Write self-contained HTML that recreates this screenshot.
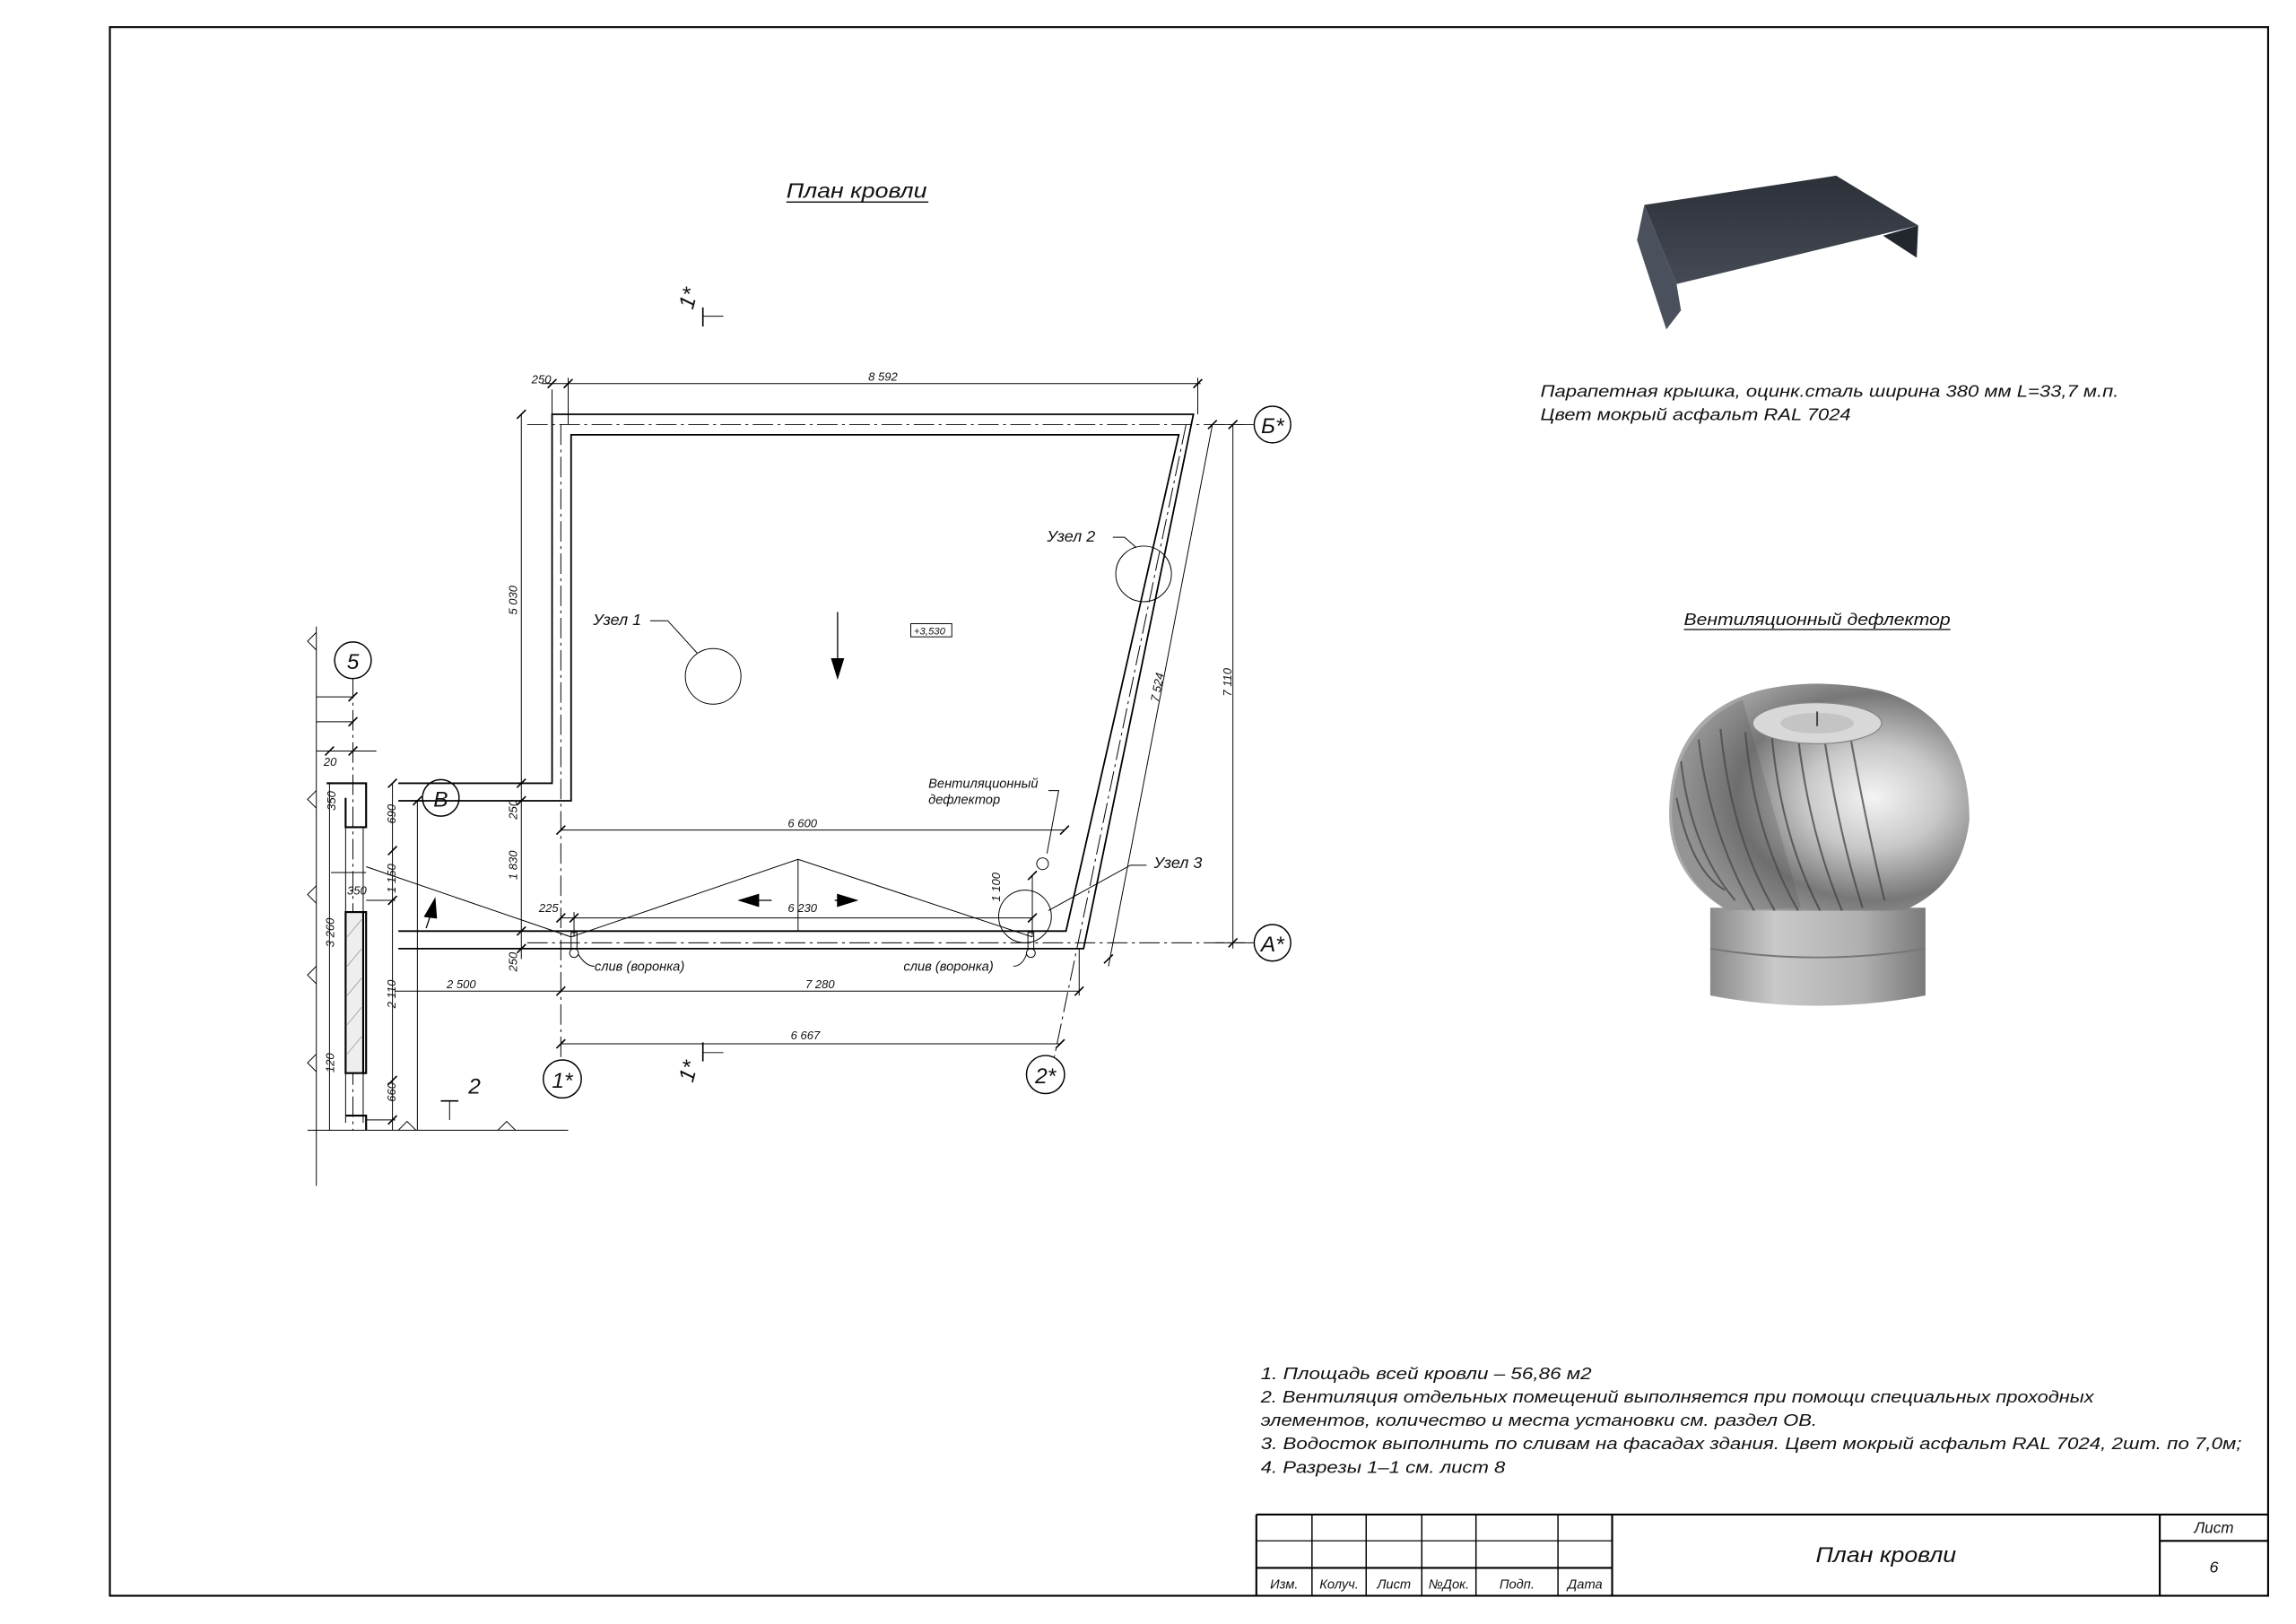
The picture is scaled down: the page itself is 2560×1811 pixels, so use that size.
<!DOCTYPE html>
<html><head><meta charset="utf-8"><style>
html,body{margin:0;padding:0;background:#fff;}
svg{display:block;}
text{font-family:"Liberation Sans",sans-serif;font-style:italic;fill:#111;}
</style></head><body>
<svg width="2560" height="1811" viewBox="0 0 1568 1109.3" xmlns="http://www.w3.org/2000/svg">
<defs>
<linearGradient id="cap" x1="0" y1="0" x2="0" y2="1"><stop offset="0" stop-color="#2c3038"/><stop offset="1" stop-color="#454a55"/></linearGradient>
<radialGradient id="dome" cx="0.68" cy="0.5" r="0.65"><stop offset="0" stop-color="#f4f4f4"/><stop offset="0.35" stop-color="#c8c8c8"/><stop offset="0.7" stop-color="#777"/><stop offset="1" stop-color="#aaa"/></radialGradient>
<linearGradient id="cyl" x1="0" y1="0" x2="1" y2="0"><stop offset="0" stop-color="#8a8a8a"/><stop offset="0.3" stop-color="#c9c9c9"/><stop offset="0.7" stop-color="#b0b0b0"/><stop offset="1" stop-color="#7a7a7a"/></linearGradient>
</defs>
<rect x="0" y="0" width="1568" height="1110" fill="#fff"/>
<rect x="75" y="18.5" width="1474" height="1071.5" fill="none" stroke="#000" stroke-width="1.3"/>

<text x="537" y="135" font-size="14" textLength="96" lengthAdjust="spacingAndGlyphs">План кровли</text>
<line x1="537" y1="138" x2="634" y2="138" stroke="#000" stroke-width="0.8"/>

<g stroke="#000" fill="none" stroke-width="0.6">
<line x1="480" y1="210" x2="480" y2="223" stroke-width="1"/><line x1="480" y1="216" x2="494" y2="216"/>
<line x1="480" y1="712" x2="480" y2="725" stroke-width="1"/><line x1="480" y1="719" x2="494" y2="719"/>
<line x1="370" y1="262" x2="820" y2="262"/>
<line x1="388" y1="258" x2="388" y2="290"/><line x1="377" y1="266" x2="377" y2="283"/>
<line x1="818" y1="258" x2="818" y2="283"/>
<polyline points="272,535 377,535 377,283 815,283 740,648 272,648" stroke-width="1.1"/>
<polyline points="272,547 390,547 390,297 805,297 728,636 272,636" stroke-width="1.1"/>
<line x1="360" y1="290" x2="856" y2="290" stroke-dasharray="14,3,2,3"/>
<line x1="360" y1="644" x2="856" y2="644" stroke-dasharray="14,3,2,3"/>
<line x1="383" y1="290" x2="383" y2="722" stroke-dasharray="14,3,2,3"/>
<line x1="810" y1="290" x2="720" y2="722" stroke-dasharray="14,3,2,3"/>
<line x1="241" y1="463" x2="241" y2="772" stroke-dasharray="14,3,2,3"/>
<line x1="356" y1="283" x2="356" y2="655"/>
<line x1="842" y1="290" x2="842" y2="648"/>
<line x1="830" y1="290" x2="850" y2="290"/><line x1="830" y1="644" x2="850" y2="644"/>
<line x1="828" y1="290" x2="757" y2="660"/>
<line x1="383" y1="567" x2="727" y2="567"/>
<line x1="383" y1="627" x2="705" y2="627"/>
<line x1="392" y1="623" x2="392" y2="640"/>
<line x1="270" y1="677" x2="737" y2="677"/>
<line x1="737" y1="648" x2="737" y2="680"/>
<line x1="383" y1="713" x2="724" y2="713"/>
<line x1="705" y1="598" x2="705" y2="640"/>
<polyline points="390,640 545,587 705,640"/>
<line x1="545" y1="587" x2="545" y2="636"/>
<line x1="250" y1="592" x2="390" y2="640"/>
<rect x="390" y="637" width="4" height="11"/><circle cx="392" cy="651" r="3"/>
<rect x="702" y="637" width="4" height="11"/><circle cx="704" cy="651" r="3"/>
<path d="M395,652 Q400,660 406,660"/><path d="M701,652 Q698,660 692,660"/>
<circle cx="487" cy="462" r="19"/><polyline points="444,424 456,424 476,446"/>
<circle cx="781" cy="392" r="19"/><polyline points="760,367 768,367 776,374"/>
<circle cx="700" cy="626" r="18"/><polyline points="716,622 772,591 783,591"/>
<circle cx="712" cy="590" r="4"/><polyline points="715,583 723,540 716,540"/>
<circle cx="869" cy="290" r="12.5" stroke-width="0.9"/>
<circle cx="869" cy="644" r="12.5" stroke-width="0.9"/>
<circle cx="384" cy="737" r="13" stroke-width="0.9"/>
<circle cx="714" cy="734" r="13" stroke-width="0.9"/>
<circle cx="301" cy="545" r="12.5" stroke-width="0.9"/>
<circle cx="241" cy="451" r="12.5" stroke-width="0.9"/>
<line x1="216" y1="428" x2="216" y2="810"/>
<path d="M216,432 l-6,6 6,6 M216,540 l-6,6 6,6 M216,605 l-6,6 6,6 M216,660 l-6,6 6,6 M216,720 l-6,6 6,6"/>
<line x1="225" y1="535" x2="225" y2="772"/>
<line x1="216" y1="476" x2="241" y2="476"/><line x1="216" y1="493" x2="241" y2="493"/>
<line x1="216" y1="513" x2="257" y2="513"/>
<line x1="210" y1="772" x2="388" y2="772"/>
<path d="M272,772 l6,-6 6,6 M340,772 l6,-6 6,6"/>
<line x1="285" y1="547" x2="285" y2="772"/>
<line x1="268" y1="535" x2="268" y2="772"/>
<line x1="236" y1="565" x2="236" y2="767"/>
<line x1="248" y1="565" x2="248" y2="767"/>
<line x1="226" y1="596" x2="250" y2="596"/>
<line x1="250" y1="615" x2="270" y2="615"/>
<line x1="250" y1="765" x2="270" y2="765"/>
<line x1="301" y1="752" x2="313" y2="752" stroke-width="1"/><line x1="307" y1="752" x2="307" y2="765"/>
<g stroke-width="1">
<path d="M353,286 l6,-6 M353,538 l6,-6 M353,550 l6,-6 M353,639 l6,-6 M353,651 l6,-6 M839,293 l6,-6 M839,647 l6,-6 M380,570 l6,-6 M724,570 l6,-6 M380,630 l6,-6 M389,630 l6,-6 M702,630 l6,-6 M380,680 l6,-6 M734,680 l6,-6 M380,716 l6,-6 M721,716 l6,-6 M385,265 l6,-6 M374,265 l6,-6 M815,265 l6,-6 M702,601 l6,-6 M825,293 l6,-6 M754,658 l6,-6 M265,538 l6,-6 M265,584 l6,-6 M265,618 l6,-6 M265,741 l6,-6 M265,768 l6,-6 M238,479 l6,-6 M238,496 l6,-6 M238,516 l6,-6 M222,516 l6,-6 M282,550 l6,-6"/>
</g>
</g>
<g stroke="#000" stroke-width="1.3" fill="none">
<polyline points="223,535 250,535 250,565 241,565"/>
<polyline points="236,545 236,565 241,565"/>
<rect x="236" y="623" width="12" height="110" fill="#eee"/>
<polyline points="248,623 250,623 250,733 248,733"/>
<polyline points="236,762 250,762 250,772"/>
</g>
<g stroke="#888" stroke-width="0.4"><path d="M237,640 l10,-12 M237,660 l10,-12 M237,680 l10,-12 M237,700 l10,-12 M237,720 l10,-12"/></g>
<g fill="#000" stroke="#000" stroke-width="0.8">
<line x1="572" y1="418" x2="572" y2="452"/><polygon points="568,450 576,450 572,463"/>
<line x1="516" y1="615" x2="527" y2="615"/><polygon points="505,615 518,611 518,619"/>
<line x1="570" y1="615" x2="575" y2="615"/><polygon points="585,615 572,611 572,619"/>
<line x1="291" y1="634" x2="294" y2="625"/><polygon points="297,614 290,626 298,627"/>
</g>
<rect x="622" y="426" width="28" height="9" fill="none" stroke="#000" stroke-width="0.6"/>
<text x="624" y="433.5" font-size="7">+3,530</text>

<g font-size="8">
<text x="603" y="260" text-anchor="middle">8 592</text>
<text x="363" y="262">250</text>
<text x="548" y="565" text-anchor="middle">6 600</text>
<text x="548" y="623" text-anchor="middle">6 230</text>
<text x="368" y="623">225</text>
<text x="315" y="675" text-anchor="middle">2 500</text>
<text x="560" y="675" text-anchor="middle">7 280</text>
<text x="550" y="710" text-anchor="middle">6 667</text>
<text transform="translate(353,410) rotate(-90)" text-anchor="middle">5 030</text>
<text transform="translate(353,553) rotate(-90)" text-anchor="middle">250</text>
<text transform="translate(353,591) rotate(-90)" text-anchor="middle">1 830</text>
<text transform="translate(353,657) rotate(-90)" text-anchor="middle">250</text>
<text transform="translate(841,466) rotate(-90)" text-anchor="middle">7 110</text>
<text transform="translate(793,470) rotate(-79)" text-anchor="middle">7 524</text>
<text transform="translate(683,606) rotate(-90)" text-anchor="middle">1 100</text>
<text transform="translate(270,556) rotate(-90)" text-anchor="middle">690</text>
<text transform="translate(270,600) rotate(-90)" text-anchor="middle">1 150</text>
<text transform="translate(270,679) rotate(-90)" text-anchor="middle">2 110</text>
<text transform="translate(270,746) rotate(-90)" text-anchor="middle">660</text>
<text transform="translate(228,637) rotate(-90)" text-anchor="middle">3 260</text>
<text transform="translate(228,726) rotate(-90)" text-anchor="middle">120</text>
<text transform="translate(229,547) rotate(-90)" text-anchor="middle">350</text>
<text x="237" y="611">350</text>
<text x="221" y="523">20</text>
</g>
<g font-size="11">
<text x="405" y="427">Узел 1</text>
<text x="715" y="370">Узел 2</text>
<text x="788" y="593">Узел 3</text>
</g>
<g font-size="9">
<text x="634" y="538">Вентиляционный</text>
<text x="634" y="549">дефлектор</text>
<text x="406" y="663">слив (воронка)</text>
<text x="617" y="663">слив (воронка)</text>
</g>
<g font-size="15" text-anchor="middle">
<text x="869" y="296">Б*</text>
<text x="869" y="650">А*</text>
<text x="384" y="743">1*</text>
<text x="714" y="740">2*</text>
<text x="301" y="551">В</text>
<text x="241" y="457">5</text>
<text x="324" y="747">2</text>
<text transform="translate(475,205) rotate(-75)">1*</text>
<text transform="translate(475,733) rotate(-75)">1*</text>
</g>

<polygon points="1118,164 1123,140 1145,194 1148,212 1138,225" fill="#4a505c"/>
<polygon points="1123,140 1254,120 1310,154 1145,194" fill="url(#cap)"/>
<polygon points="1286,161 1310,154 1309,176" fill="#22262d"/>
<text x="1052" y="271" font-size="11.5" textLength="395" lengthAdjust="spacingAndGlyphs">Парапетная крышка, оцинк.сталь ширина 380 мм L=33,7 м.п.</text>
<text x="1052" y="287" font-size="11.5" textLength="212" lengthAdjust="spacingAndGlyphs">Цвет мокрый асфальт RAL 7024</text>

<text x="1150" y="427" font-size="11.5" textLength="182" lengthAdjust="spacingAndGlyphs">Вентиляционный дефлектор</text>
<line x1="1150" y1="430" x2="1332" y2="430" stroke="#000" stroke-width="0.7"/>
<path d="M1168,620 L1168,680 Q1241,694 1315,680 L1315,620 Z" fill="url(#cyl)"/>
<path d="M1168,648 Q1241,660 1315,648" fill="none" stroke="#777" stroke-width="1.2"/>
<path d="M1140,560 Q1138,490 1200,472 Q1241,462 1285,472 Q1345,490 1345,560 Q1340,605 1300,622 L1180,622 Q1142,600 1140,560 Z" fill="url(#dome)"/>
<g fill="none" stroke="#444" stroke-width="1.3" opacity="0.75">
<path d="M1148,520 Q1155,580 1185,615"/><path d="M1160,505 Q1168,570 1198,622"/><path d="M1175,498 Q1182,570 1212,622"/>
<path d="M1192,500 Q1198,570 1228,622"/><path d="M1210,502 Q1216,570 1243,622"/><path d="M1228,504 Q1236,570 1258,622"/>
<path d="M1246,505 Q1256,570 1272,620"/><path d="M1264,505 Q1276,570 1287,615"/><path d="M1145,545 Q1155,595 1178,608"/>
</g>
<g fill="#555" opacity="0.25"><path d="M1142,560 Q1140,500 1190,478 L1230,620 L1180,622 Q1145,600 1142,560 Z"/></g>
<ellipse cx="1241" cy="494" rx="44" ry="14" fill="#d8d8d8" stroke="#888" stroke-width="0.8"/>
<ellipse cx="1241" cy="494" rx="25" ry="7" fill="#c4c4c4"/>
<line x1="1241" y1="486" x2="1241" y2="496" stroke="#444" stroke-width="1.2"/>

<g font-size="11.5">
<text x="861" y="942" textLength="226" lengthAdjust="spacingAndGlyphs">1. Площадь всей кровли – 56,86 м2</text>
<text x="861" y="958" textLength="569" lengthAdjust="spacingAndGlyphs">2. Вентиляция отдельных помещений выполняется при помощи специальных проходных</text>
<text x="861" y="974" textLength="380" lengthAdjust="spacingAndGlyphs">элементов, количество и места установки см. раздел ОВ.</text>
<text x="861" y="990" textLength="670" lengthAdjust="spacingAndGlyphs">3. Водосток выполнить по сливам на фасадах здания. Цвет мокрый асфальт RAL 7024, 2шт. по 7,0м;</text>
<text x="861" y="1006" textLength="167" lengthAdjust="spacingAndGlyphs">4. Разрезы 1–1 см. лист 8</text>
</g>

<g stroke="#000" fill="none">
<line x1="858" y1="1034.5" x2="1549" y2="1034.5" stroke-width="1.3"/>
<line x1="858" y1="1034.5" x2="858" y2="1090" stroke-width="1.3"/>
<line x1="858" y1="1052.5" x2="1101" y2="1052.5" stroke-width="0.8"/>
<line x1="858" y1="1071" x2="1101" y2="1071" stroke-width="1.3"/>
<line x1="1475" y1="1052.5" x2="1549" y2="1052.5" stroke-width="1.3"/>
<g stroke-width="0.9">
<line x1="896" y1="1034.5" x2="896" y2="1090"/><line x1="933" y1="1034.5" x2="933" y2="1090"/>
<line x1="971" y1="1034.5" x2="971" y2="1090"/><line x1="1008" y1="1034.5" x2="1008" y2="1090"/>
<line x1="1064" y1="1034.5" x2="1064" y2="1090"/>
</g>
<line x1="1101" y1="1034.5" x2="1101" y2="1090" stroke-width="1.3"/>
<line x1="1475" y1="1034.5" x2="1475" y2="1090" stroke-width="1.3"/>
</g>
<g font-size="9" text-anchor="middle">
<text x="877" y="1085">Изм.</text><text x="914.5" y="1085">Колуч.</text><text x="952" y="1085">Лист</text>
<text x="989.5" y="1085">№Док.</text><text x="1036" y="1085">Подп.</text><text x="1082.5" y="1085">Дата</text>
<text x="1512" y="1047" font-size="10.5" font-style="normal">Лист</text>
<text x="1512" y="1074" font-size="11">6</text>
</g>
<text x="1240" y="1067" font-size="15" textLength="96" lengthAdjust="spacingAndGlyphs">План кровли</text>
</svg>
</body></html>
